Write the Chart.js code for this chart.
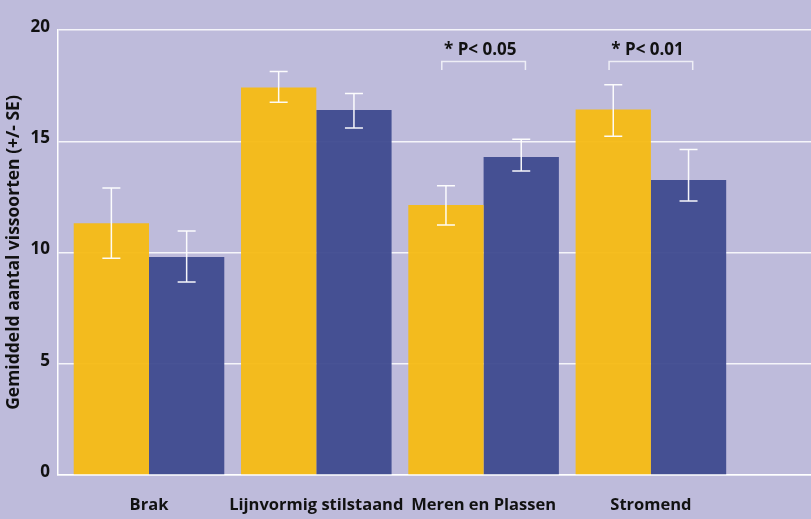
<!DOCTYPE html>
<html>
<head>
<meta charset="utf-8">
<script src="https://cdn.jsdelivr.net/npm/chart.js@4/dist/chart.umd.min.js"></script>
<style>
  html, body { margin: 0; padding: 0; background: #bebbdb; }
  #wrap { width: 811px; height: 519px; position: relative; }
</style>
</head>
<body>
<div id="wrap"><canvas id="c"></canvas></div>
<script>
// ---- data ----
const categories = ['Brak', 'Lijnvormig stilstaand', 'Meren en Plassen', 'Stromend'];
const categoryPositions = [1, 2, 3, 4];
const meansA   = [11.31, 17.42, 12.13, 16.43];   // yellow
const errHighA = [12.90, 18.13, 13.00, 17.54];
const errLowA  = [9.74, 16.75, 11.24, 15.23];
const meansB   = [9.80, 16.40, 14.29, 13.26];    // blue
const errHighB = [10.97, 17.15, 15.09, 14.63];
const errLowB  = [8.67, 15.60, 13.66, 12.31];
const yTicks = [0, 5, 10, 15, 20];
const sigPositions = [3, 4];
const sigLabels = ['* P< 0.05', '* P< 0.01'];
const yTitle = 'Gemiddeld aantal vissoorten (+/- SE)';

const FONT = '"Open Sans", Lato, sans-serif';

const errorBars = {
  id: 'errorBars',
  afterDatasetsDraw(chart) {
    const ctx = chart.ctx, ys = chart.scales.y;
    const highs = [errHighA, errHighB], lows = [errLowA, errLowB];
    chart.data.datasets.forEach((ds, i) => {
      const meta = chart.getDatasetMeta(i);
      meta.data.forEach((bar, j) => {
        const x = bar.x;
        const t = ys.getPixelForValue(highs[i][j]), b = ys.getPixelForValue(lows[i][j]);
        ctx.save();
        ctx.strokeStyle = 'rgba(255,255,255,0.95)';
        ctx.lineWidth = 1.5;
        ctx.beginPath();
        ctx.moveTo(x, t); ctx.lineTo(x, b);
        ctx.moveTo(x - 9, t); ctx.lineTo(x + 9, t);
        ctx.moveTo(x - 9, b); ctx.lineTo(x + 9, b);
        ctx.stroke();
        ctx.restore();
      });
    });
  }
};

const sigMarks = {
  id: 'sigMarks',
  afterDraw(chart) {
    const ctx = chart.ctx, xs = chart.scales.x, ys = chart.scales.y;
    sigPositions.forEach((p, k) => {
      const x1 = xs.getPixelForValue(p - 0.25), x2 = xs.getPixelForValue(p + 0.25);
      const yb = ys.getPixelForValue(18.58), yt = ys.getPixelForValue(18.2);
      ctx.save();
      ctx.strokeStyle = 'rgba(240,240,248,0.95)';
      ctx.lineWidth = 1.5;
      ctx.beginPath();
      ctx.moveTo(x1, yt); ctx.lineTo(x1, yb); ctx.lineTo(x2, yb); ctx.lineTo(x2, yt);
      ctx.stroke();
      ctx.fillStyle = '#111';
      ctx.font = 'bold 17px ' + FONT;
      ctx.textAlign = 'center';
      ctx.textBaseline = 'alphabetic';
      ctx.fillText(sigLabels[k], xs.getPixelForValue(p - 0.02), ys.getPixelForValue(18.88));
      ctx.restore();
    });
  }
};

new Chart(document.getElementById('c'), {
  type: 'bar',
  data: {
    datasets: [
      { data: categoryPositions.map((x, i) => ({ x, y: meansA[i] })), backgroundColor: 'rgba(245,186,20,0.95)', borderWidth: 0,
        categoryPercentage: 0.9, barPercentage: 1.0 },
      { data: categoryPositions.map((x, i) => ({ x, y: meansB[i] })), backgroundColor: 'rgba(62,74,143,0.95)', borderWidth: 0,
        categoryPercentage: 0.9, barPercentage: 1.0 }
    ]
  },
  options: {
    responsive: true,
    maintainAspectRatio: false,
    animation: false,
    layout: { padding: { top: 30, right: 0, bottom: 0, left: 0 } },
    plugins: { legend: { display: false }, tooltip: { enabled: false } },
    scales: {
      x: {
        type: 'linear',
        offset: false,
        bounds: 'ticks',
        min: 0.456,
        max: 4.957,
        grid: { display: false, offset: false },
        border: { color: '#ffffff', width: 1.5 },
        afterBuildTicks: s => { s.ticks = categoryPositions.map(v => ({ value: v })); },
        afterFit: s => { s.height = 44; },
        ticks: {
          autoSkip: false,
          maxRotation: 0,
          padding: 12,
          color: '#111',
          font: { family: FONT, size: 16.5, weight: 'bold' },
          callback: v => categories[categoryPositions.indexOf(v)] ?? ''
        }
      },
      y: {
        min: 0,
        max: 20,
        afterBuildTicks: s => { s.ticks = yTicks.map(v => ({ value: v })); },
        afterFit: s => { s.width = 58; },
        grid: { color: 'rgba(255,255,255,0.85)', lineWidth: 1.5, drawTicks: false },
        border: { color: '#ffffff', width: 1.5 },
        ticks: {
          padding: 8,
          labelOffset: -3,
          color: '#111',
          font: { family: FONT, size: 17, weight: 'bold' }
        },
        title: {
          display: true,
          text: yTitle,
          color: '#111',
          padding: { top: 4, bottom: 4 },
          font: { family: FONT, size: 17.5, weight: 'bold' }
        }
      }
    }
  },
  plugins: [errorBars, sigMarks]
});
</script>
</body>
</html>
